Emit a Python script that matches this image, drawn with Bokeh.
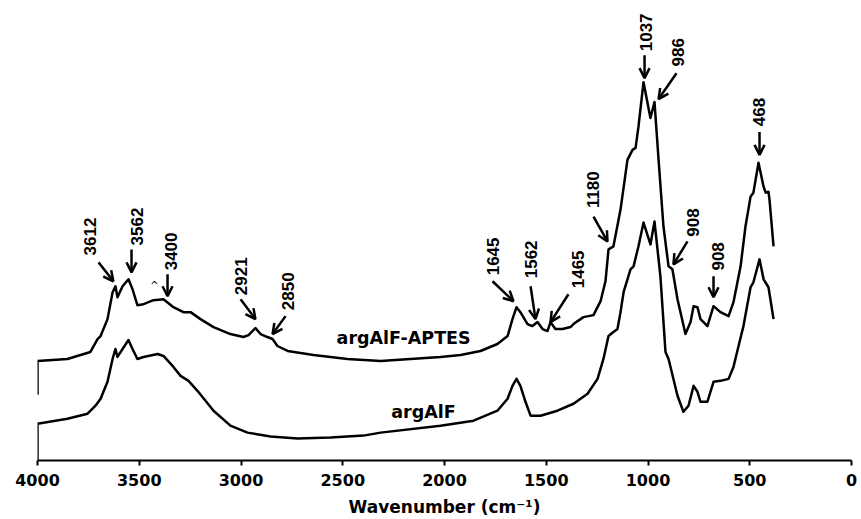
import math
from bokeh.plotting import figure
from bokeh.models import Range1d, FixedTicker, ColumnDataSource, Arrow, OpenHead, Label
from bokeh.core.properties import value
from bokeh.embed import file_html
from bokeh.resources import INLINE

# ---- data (wavenumber, arbitrary absorbance) ----
aptes_wn = [4000, 4000, 3853, 3740, 3705, 3690, 3656, 3631, 3617, 3607, 3582, 3553, 3533, 3509,
            3479, 3430, 3381, 3332, 3283, 3248, 3199, 3135, 3052, 2988, 2963, 2929, 2904, 2870,
            2845, 2821, 2771, 2644, 2477, 2314, 2020, 1921, 1823, 1740, 1690, 1666, 1646, 1627,
            1592, 1568, 1543, 1518, 1494, 1479, 1455, 1420, 1381, 1366, 1346, 1317, 1268, 1233,
            1209, 1194, 1170, 1135, 1101, 1076, 1061, 1047, 1022, 988, 968, 948, 924, 899, 880,
            855, 816, 791, 776, 757, 742, 708, 678, 644, 604, 580, 545, 521, 496, 482, 457, 432,
            422, 408, 403, 383]
aptes_abs = [0.66, 1.00, 1.02, 1.09, 1.22, 1.25, 1.42, 1.69, 1.75, 1.64, 1.75, 1.82, 1.72, 1.56,
             1.57, 1.61, 1.62, 1.54, 1.49, 1.49, 1.42, 1.34, 1.27, 1.24, 1.26, 1.33, 1.27, 1.24,
             1.22, 1.15, 1.10, 1.06, 1.02, 1.00, 1.04, 1.06, 1.10, 1.17, 1.25, 1.42, 1.54, 1.49,
             1.37, 1.35, 1.39, 1.32, 1.30, 1.39, 1.32, 1.32, 1.34, 1.37, 1.40, 1.44, 1.46, 1.60,
             1.80, 2.12, 2.15, 2.52, 3.02, 3.12, 3.14, 3.35, 3.80, 3.44, 3.60, 3.02, 2.35, 1.95,
             1.92, 1.62, 1.27, 1.39, 1.55, 1.54, 1.42, 1.35, 1.55, 1.49, 1.45, 1.59, 1.95, 2.35,
             2.65, 2.69, 2.99, 2.75, 2.69, 2.70, 2.62, 2.15]

alf_wn = [4000, 4000, 3853, 3754, 3715, 3690, 3656, 3631, 3617, 3607, 3582, 3553, 3533, 3509,
          3479, 3410, 3381, 3332, 3297, 3258, 3214, 3135, 3052, 2968, 2855, 2722, 2560, 2398,
          2314, 2020, 1857, 1740, 1690, 1666, 1646, 1627, 1602, 1577, 1528, 1445, 1366, 1297,
          1248, 1219, 1194, 1170, 1150, 1135, 1120, 1086, 1071, 1047, 1022, 988, 968, 939, 914,
          899, 855, 826, 801, 776, 757, 742, 708, 678, 644, 604, 580, 555, 531, 496, 482, 452,
          432, 408, 383]
alf_abs = [0.00, 0.37, 0.42, 0.47, 0.55, 0.62, 0.79, 1.02, 1.12, 1.04, 1.12, 1.21, 1.12, 1.02,
           1.04, 1.07, 1.05, 0.94, 0.85, 0.80, 0.70, 0.50, 0.35, 0.28, 0.24, 0.22, 0.23, 0.25,
           0.28, 0.35, 0.40, 0.50, 0.62, 0.75, 0.82, 0.75, 0.59, 0.45, 0.45, 0.50, 0.57, 0.67,
           0.82, 1.02, 1.25, 1.29, 1.32, 1.49, 1.69, 1.92, 1.95, 2.15, 2.39, 2.17, 2.40, 1.85,
           1.09, 1.02, 0.65, 0.49, 0.55, 0.75, 0.69, 0.59, 0.59, 0.79, 0.80, 0.82, 0.94, 1.15,
           1.35, 1.74, 1.79, 2.02, 1.82, 1.74, 1.42]

# peak annotations: label, label position, arrow start -> arrow end
peak_labels = ["3612", "3562", "3400", "2921", "2850", "1645", "1562", "1465", "1180",
               "1037", "986", "908", "908", "468"]
label_wn = [3740, 3509, 3346, 3002, 2767, 1764, 1577, 1342, 1268, 1012, 855, 781, 658, 457]
label_abs = [2.25, 2.35, 2.10, 1.85, 1.70, 2.05, 2.02, 1.92, 2.72, 4.30, 4.10, 2.39, 2.05, 3.50]
arrow_wn0 = [3700, 3538, 3361, 3002, 2781, 1764, 1577, 1391, 1268, 1017, 860, 806, 678, 452]
arrow_abs0 = [1.99, 2.12, 1.87, 1.62, 1.45, 1.80, 1.75, 1.67, 2.45, 4.07, 3.89, 2.20, 1.85, 3.30]
arrow_wn1 = [3627, 3538, 3361, 2929, 2845, 1661, 1553, 1479, 1199, 1017, 948, 875, 678, 452]
arrow_abs1 = [1.80, 1.89, 1.65, 1.42, 1.27, 1.60, 1.42, 1.39, 2.20, 3.84, 3.63, 1.97, 1.64, 3.07]

series_names = ["argAlF-APTES", "argAlF"]
series_label_wn = [2201, 2103]
series_label_abs = [1.23, 0.49]

x_ticks = [0, 500, 1000, 1500, 2000, 2500, 3000, 3500, 4000]

# ---- figure ----
p = figure(width=861, height=519, output_backend="svg", toolbar_location=None,
           x_range=Range1d(4000, 0), y_range=Range1d(0, 4.62),
           min_border_left=37, min_border_right=10, min_border_top=0, min_border_bottom=57)
p.outline_line_color = None
p.xgrid.visible = False
p.ygrid.visible = False
p.yaxis.visible = False
p.background_fill_color = "white"

ax = p.xaxis[0]
ax.ticker = FixedTicker(ticks=x_ticks)
ax.axis_line_width = 2
ax.axis_line_color = "black"
ax.major_tick_line_width = 2
ax.major_tick_out = 5
ax.major_tick_in = 0
ax.minor_tick_out = 0
ax.minor_tick_in = 0
ax.major_label_text_font = "DejaVu Sans"
ax.major_label_text_font_style = "bold"
ax.major_label_text_font_size = "16px"
ax.major_label_text_color = "black"
ax.major_label_standoff = 8
ax.axis_label = "Wavenumber (cm\u207b\u00b9)"
ax.axis_label_text_font = "DejaVu Sans"
ax.axis_label_text_font_style = "bold"
ax.axis_label_text_font_size = "17px"
ax.axis_label_text_color = "black"
ax.axis_label_standoff = 8

p.line(aptes_wn, aptes_abs, line_color="black", line_width=2.5, line_join="round")
p.line(alf_wn, alf_abs, line_color="black", line_width=2.5, line_join="round")

lab_src = ColumnDataSource(dict(x=label_wn, y=label_abs, t=peak_labels))
p.text(x="x", y="y", text="t", source=lab_src, angle=math.pi / 2,
       text_align="center", text_baseline="middle",
       text_font=value("Liberation Sans"), text_font_style="bold",
       text_font_size="17px", text_color="black")

arr_src = ColumnDataSource(dict(x0=arrow_wn0, y0=arrow_abs0, x1=arrow_wn1, y1=arrow_abs1))
p.add_layout(Arrow(end=OpenHead(size=10, line_width=2.5, line_color="black"),
                   x_start="x0", y_start="y0", x_end="x1", y_end="y1",
                   line_width=2.5, line_color="black", source=arr_src))

ser_src = ColumnDataSource(dict(x=series_label_wn, y=series_label_abs, t=series_names))
p.text(x="x", y="y", text="t", source=ser_src, text_align="center", text_baseline="middle",
       text_font=value("DejaVu Sans"), text_font_style="bold",
       text_font_size="17.5px", text_color="black")

p.add_layout(Label(x=3425, y=1.76, text="^", text_align="center", text_baseline="middle",
                   text_font="DejaVu Sans", text_font_size="10px", text_color="black"))

open("out.html", "w").write(file_html(p, INLINE))
